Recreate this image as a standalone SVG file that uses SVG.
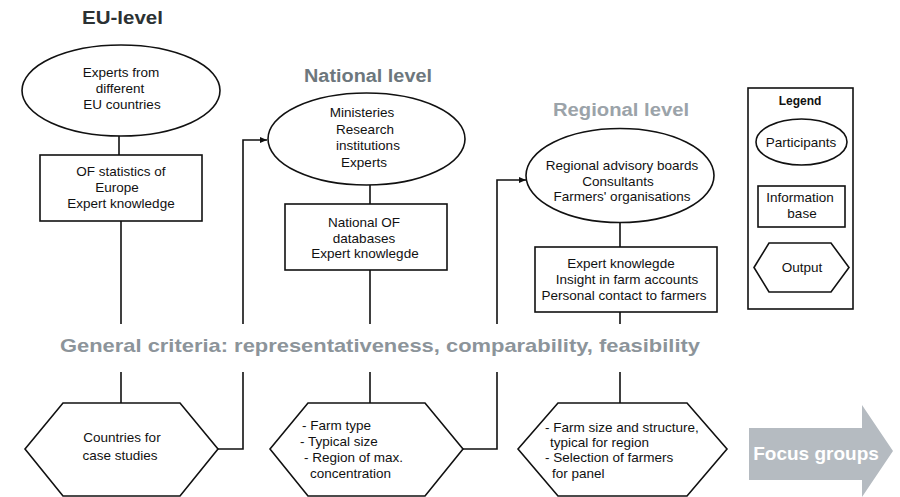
<svg xmlns="http://www.w3.org/2000/svg" width="900" height="497" viewBox="0 0 900 497">
<defs>
<style>
.shape{fill:#fff;stroke:#111;stroke-width:1.6}
.ln{fill:none;stroke:#111;stroke-width:1.6}
.t{font-family:"Liberation Sans",Arial,sans-serif;font-size:13.5px;fill:#111;text-anchor:middle}
.tl{font-family:"Liberation Sans",Arial,sans-serif;font-size:13.5px;fill:#111}
.title{font-family:"Liberation Sans",Arial,sans-serif;font-weight:bold;font-size:18px}
</style>
<marker id="ah" markerWidth="8" markerHeight="8" refX="7" refY="4" orient="auto" markerUnits="userSpaceOnUse">
<path d="M0,1 L7,4 L0,7 Z" fill="#111"/>
</marker>
</defs>
<rect width="900" height="497" fill="#fff"/>

<text class="title" x="82" y="24" fill="#2b3133" textLength="81" lengthAdjust="spacingAndGlyphs">EU-level</text>
<text class="title" x="304" y="82" fill="#6d777d" textLength="128" lengthAdjust="spacingAndGlyphs">National level</text>
<text class="title" x="553" y="116" fill="#9ba3a9" textLength="136" lengthAdjust="spacingAndGlyphs">Regional level</text>

<g id="connectors">
<path class="ln" d="M119,136 V155"/>
<path class="ln" d="M121,221 V324 M121,372 V403"/>
<path class="ln" d="M370,185 V204"/>
<path class="ln" d="M370,270 V324 M370,372 V403"/>
<path class="ln" d="M620,223 V247"/>
<path class="ln" d="M620,312 V324 M620,372 V403"/>
<path class="ln" d="M218,449 H243 V372"/>
<path class="ln" d="M243,324 V140 H267" marker-end="url(#ah)"/>
<path class="ln" d="M463,449 H497 V372"/>
<path class="ln" d="M497,324 V180 H526" marker-end="url(#ah)"/>
</g>

<g id="eu-participants">
<ellipse class="shape" cx="121" cy="90.5" rx="99" ry="45.5"/>
<text class="t" x="121" y="76.5">Experts from</text>
<text class="t" x="120" y="92.5">different</text>
<text class="t" x="122" y="108.5">EU countries</text>
</g>
<g id="eu-info">
<rect class="shape" x="40" y="155" width="162" height="66"/>
<text class="t" x="121" y="176">OF statistics of</text>
<text class="t" x="117" y="192">Europe</text>
<text class="t" x="121" y="208">Expert knowledge</text>
</g>
<g id="eu-output">
<polygon class="shape" points="25,449 63,403 180,403 218,449 180,496 63,496"/>
<text class="t" x="122" y="441.5">Countries for</text>
<text class="t" x="120" y="459.5">case studies</text>
</g>

<g id="national-participants">
<ellipse class="shape" cx="366.5" cy="139" rx="98.5" ry="46"/>
<text class="t" x="362" y="116.5">Ministeries</text>
<text class="t" x="365" y="134">Research</text>
<text class="t" x="368" y="149.5">institutions</text>
<text class="t" x="364" y="167">Experts</text>
</g>
<g id="national-info">
<rect class="shape" x="285" y="204" width="162" height="66"/>
<text class="t" x="364" y="227">National OF</text>
<text class="t" x="364" y="242.5">databases</text>
<text class="t" x="365" y="257.5">Expert knowlegde</text>
</g>
<g id="national-output">
<polygon class="shape" points="270,449 308,403 425,403 463,449 425,496 308,496"/>
<text class="tl" x="302" y="430">- Farm type</text>
<text class="tl" x="300" y="446">- Typical size</text>
<text class="tl" x="304" y="462">- Region of max.</text>
<text class="tl" x="310" y="478">concentration</text>
</g>

<g id="regional-participants">
<ellipse class="shape" cx="620" cy="175.5" rx="94" ry="47"/>
<text class="t" x="622" y="170">Regional advisory boards</text>
<text class="t" x="618" y="185.5">Consultants</text>
<text class="t" x="622" y="200.5">Farmers' organisations</text>
</g>
<g id="regional-info">
<rect class="shape" x="535" y="247" width="182" height="65"/>
<text class="t" x="621" y="267.5">Expert knowlegde</text>
<text class="t" x="627" y="283.5">Insight in farm accounts</text>
<text class="t" x="624" y="299.5">Personal contact to farmers</text>
</g>
<g id="regional-output">
<polygon class="shape" points="518,449 558,403 687,403 727,449 687,496 558,496"/>
<text class="tl" x="545" y="432">- Farm size and structure,</text>
<text class="tl" x="550" y="446.5">typical for region</text>
<text class="tl" x="545" y="462">- Selection of farmers</text>
<text class="tl" x="552" y="477.5">for panel</text>
</g>

<text id="criteria" x="60" y="352" font-family="'Liberation Sans',Arial,sans-serif" font-weight="bold" font-size="19" fill="#8c949a" textLength="640" lengthAdjust="spacingAndGlyphs">General criteria: representativeness, comparability, feasibility</text>

<g id="legend">
<rect class="shape" x="748" y="88" width="105" height="221"/>
<text x="800" y="105" font-family="'Liberation Sans',Arial,sans-serif" font-weight="bold" font-size="12" fill="#111" text-anchor="middle">Legend</text>
<ellipse class="shape" cx="801.5" cy="142" rx="45.5" ry="23"/>
<text class="t" x="801" y="146.5">Participants</text>
<rect class="shape" x="758" y="186" width="87" height="41"/>
<text class="t" x="800" y="201.5">Information</text>
<text class="t" x="802" y="217.5">base</text>
<polygon class="shape" points="754,267.5 769,243 831,243 849,267.5 831,292 769,292"/>
<text class="t" x="802" y="271.5">Output</text>
</g>

<g id="focus-groups">
<polygon points="749,428 862,428 862,405 893,451 862,497 862,480 749,480" fill="#b5bbc1"/>
<text x="816" y="460" font-family="'Liberation Sans',Arial,sans-serif" font-weight="bold" font-size="19" fill="#fff" text-anchor="middle">Focus groups</text>
</g>
</svg>
